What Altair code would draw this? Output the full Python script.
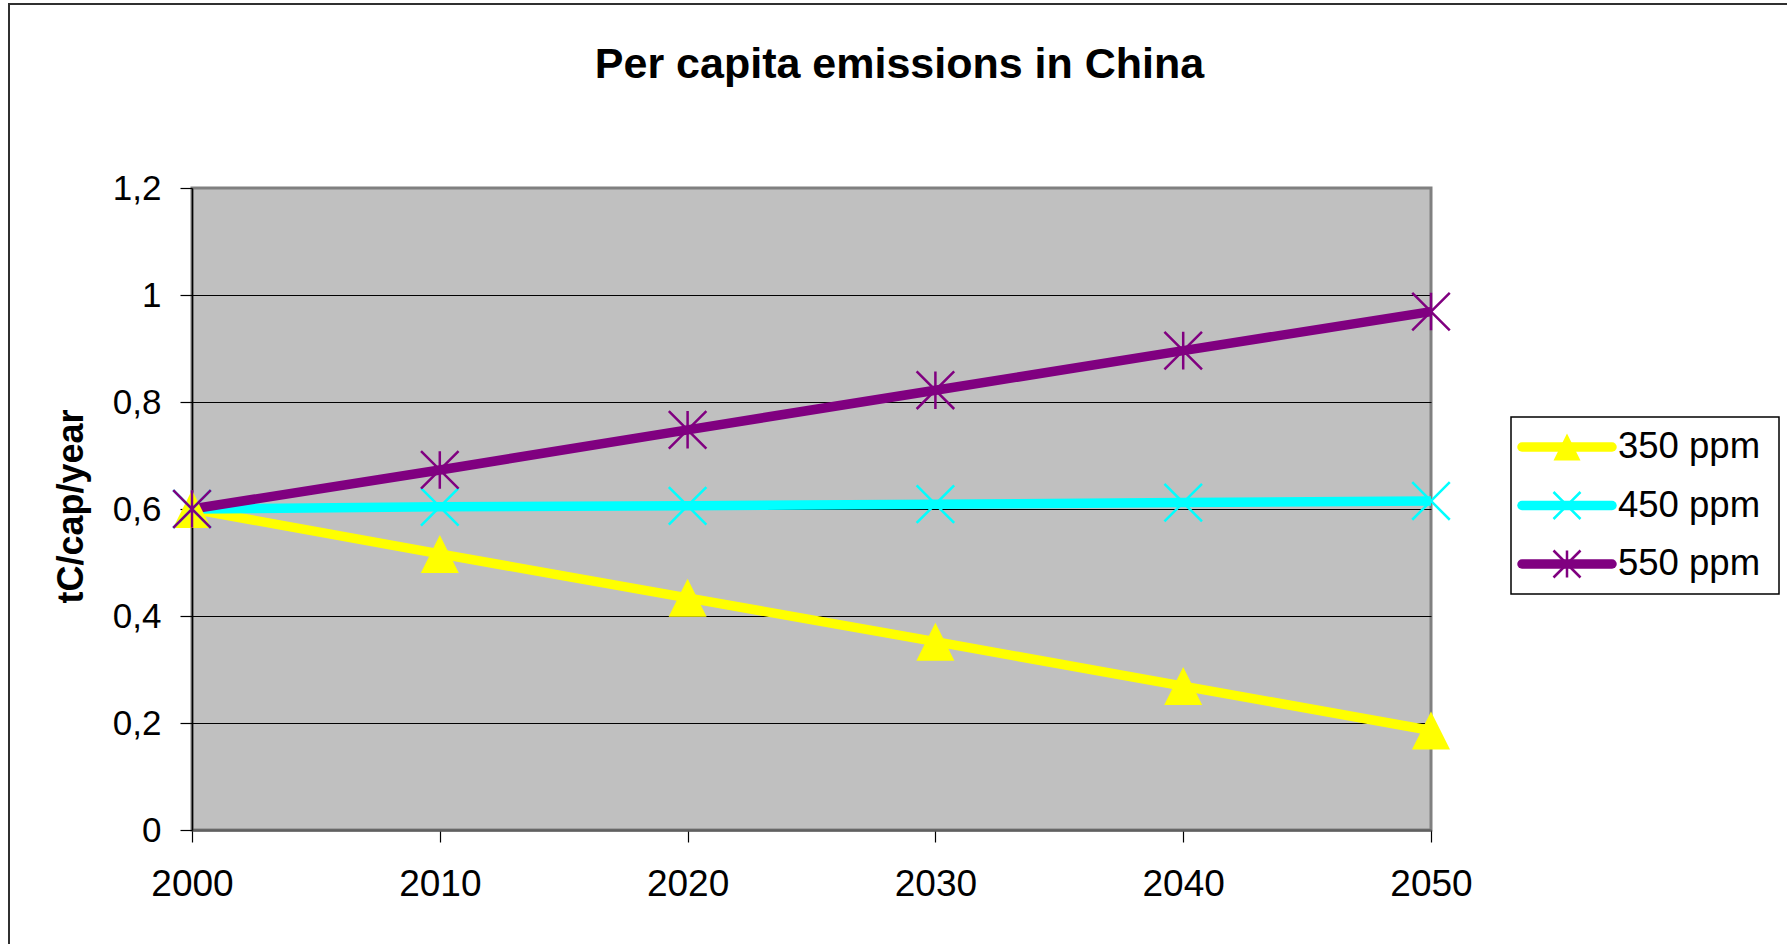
import altair as alt
import pandas as pd

# Per-capita emission paths (tC/cap/year) for three stabilisation targets
years = [2000, 2010, 2020, 2030, 2040, 2050]
series_names = ["350 ppm", "450 ppm", "550 ppm"]
ppm350 = [0.600, 0.516, 0.434, 0.352, 0.269, 0.186]
ppm450 = [0.600, 0.604, 0.606, 0.609, 0.612, 0.615]
ppm550 = [0.600, 0.673, 0.748, 0.822, 0.896, 0.969]
y_ticks = [0, 0.2, 0.4, 0.6, 0.8, 1.0, 1.2]

colors = ["#FFFF00", "#00FFFF", "#800080"]
TRI = "M0,-1L1,1L-1,1Z"
CROSS = "M-1,-1L1,1M1,-1L-1,1"
STAR = "M-1,-1L1,1M1,-1L-1,1M0,-1L0,1"
shapes = [TRI, CROSS, STAR]

FONT = "Liberation Sans"

rows = []
for name, vals in zip(series_names, [ppm350, ppm450, ppm550]):
    for yr, v in zip(years, vals):
        rows.append({"year": yr, "series": name, "value": v})
df = pd.DataFrame(rows)

color_scale = alt.Scale(domain=series_names, range=colors)
shape_scale = alt.Scale(domain=series_names, range=shapes)
color_enc = alt.Color("series:N", scale=color_scale, legend=None)
shape_enc = alt.Shape("series:N", scale=shape_scale, legend=None)

x_enc = alt.X(
    "year:Q",
    scale=alt.Scale(domain=[2000, 2050], nice=False, zero=False),
    axis=alt.Axis(
        values=years, format="d", title=None, grid=False, labelFlush=False,
        domainColor="#606060", domainWidth=2.5,
        tickColor="black", tickSize=12, tickWidth=1.2,
        labelFont=FONT, labelFontSize=37, labelColor="black", labelPadding=24,
    ),
)
y_enc = alt.Y(
    "value:Q",
    scale=alt.Scale(domain=[0, 1.2], nice=False),
    axis=alt.Axis(
        values=y_ticks, labelFlush=False,
        labelExpr="replace(format(datum.value, '.1~f'), '.', ',')",
        grid=True, gridWidth=1,
        gridColor=alt.condition("datum.value == 0 || datum.value >= 1.2",
                                alt.value("#808080"), alt.value("black")),
        domainColor="black", domainWidth=1.5,
        tickColor="black", tickSize=12, tickWidth=1.2,
        labelFont=FONT, labelFontSize=35, labelColor="black", labelPadding=19,
        title="tC/cap/year", titleFont=FONT, titleFontSize=36, titleFontWeight="bold",
        titleColor="black", titleAngle=270, titleBaseline="alphabetic",
        titleX=-110, titleY=318, titleAlign="center",
    ),
)

base = alt.Chart(df)
lines = base.mark_line(strokeWidth=9.5).encode(x=x_enc, y=y_enc, color=color_enc)
tri_pts = base.transform_filter(alt.datum.series == "350 ppm").mark_point(
    shape=TRI, size=1444, filled=True, opacity=1
).encode(x=x_enc, y=y_enc, color=color_enc)
cross_pts = base.transform_filter(alt.datum.series != "350 ppm").mark_point(
    size=1410, strokeWidth=2.5, opacity=1
).encode(x=x_enc, y=y_enc, color=color_enc, shape=shape_enc)
main = alt.layer(lines, tri_pts, cross_pts)

# Legend panel built from the series list, one row per series
leg_df = pd.DataFrame({"series": series_names, "row": list(range(len(series_names)))})
leg_y = alt.Y("row:Q", scale=alt.Scale(domain=[0, 2], range=[259, 376], nice=False, zero=False), axis=None)
one = pd.DataFrame({"k": [0]})

frame = alt.Chart(one).mark_rect(fillOpacity=0, stroke="#303030", strokeWidth=2).encode(
    x=alt.value(-183), x2=alt.value(1620), y=alt.value(-184), y2=alt.value(780)
)
leg_box = alt.Chart(one).mark_rect(fill="white", stroke="black", strokeWidth=1.5).encode(
    x=alt.value(1319), x2=alt.value(1587), y=alt.value(229), y2=alt.value(406)
)
leg_lines = alt.Chart(leg_df).mark_rule(strokeWidth=9.5, strokeCap="round").encode(
    x=alt.value(1330), x2=alt.value(1420), y=leg_y, color=color_enc
)
leg_tri = alt.Chart(leg_df).transform_filter(alt.datum.series == "350 ppm").mark_point(
    shape=TRI, size=729, filled=True, opacity=1
).encode(x=alt.value(1375), y=leg_y, color=color_enc)
leg_cross = alt.Chart(leg_df).transform_filter(alt.datum.series != "350 ppm").mark_point(
    size=729, strokeWidth=2.5, opacity=1
).encode(x=alt.value(1375), y=leg_y, color=color_enc, shape=shape_enc)
leg_text = alt.Chart(leg_df).mark_text(
    align="left", baseline="middle", font=FONT, fontSize=36.5, color="black"
).encode(x=alt.value(1426), y=leg_y, text="series:N")
decor = alt.layer(frame, leg_box, leg_lines, leg_tri, leg_cross, leg_text)

chart = (
    alt.layer(main, decor)
    .resolve_scale(y="independent")
    .properties(
        width=1239,
        height=642,
        autosize=alt.AutoSizeParams(type="none"),
        padding={"left": 192, "top": 188, "right": 356, "bottom": 114},
        title=alt.TitleParams(
            "Per capita emissions in China",
            font=FONT, fontSize=43, fontWeight="bold", color="black",
            anchor="middle", frame="group", dx=88, offset=-84,
        ),
        background="white",
    )
    .configure_view(fill="#C0C0C0", stroke="#808080", strokeWidth=3)
)

chart.save("out.html", embed_options={"renderer": "svg", "actions": False})
